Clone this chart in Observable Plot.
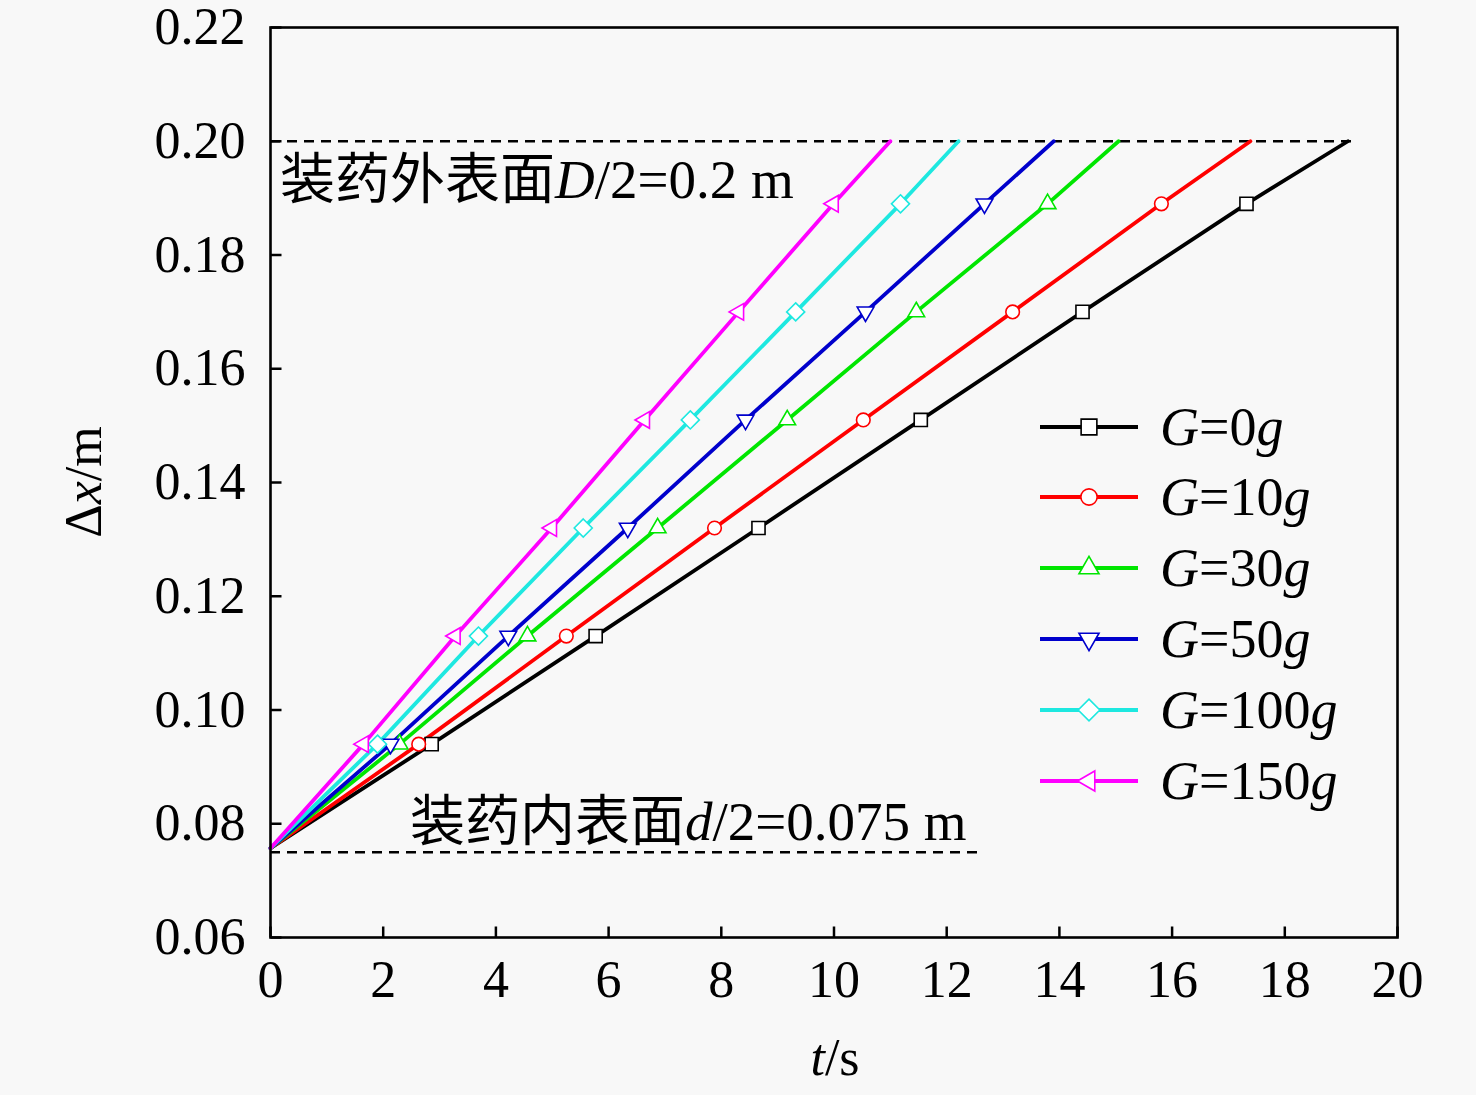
<!DOCTYPE html>
<html><head><meta charset="utf-8">
<script src="https://cdn.jsdelivr.net/npm/d3@7"></script>
<script src="https://cdn.jsdelivr.net/npm/@observablehq/plot@0.6"></script>
<style>
body{margin:0;background:#f8f8f8;}
#chart svg{display:block;overflow:visible;}
</style>
</head><body><div id="chart"></div>
<script>
// ---- data ----
const dxLevels = [0.0757, 0.094, 0.113, 0.132, 0.151, 0.170, 0.189, 0.200];
const seriesLabels = ["0", "10", "30", "50", "100", "150"];
const seriesColors = ["#000000", "#ff0000", "#00e600", "#0000cc", "#1ee8e0", "#ff00ff"];
const tG0   = [0, 2.86, 5.77, 8.66, 11.54, 14.41, 17.32, 19.12];
const tG10  = [0, 2.63, 5.25, 7.88, 10.52, 13.17, 15.81, 17.39];
const tG30  = [0, 2.29, 4.56, 6.87, 9.17, 11.46, 13.79, 15.05];
const tG50  = [0, 2.13, 4.22, 6.34, 8.43, 10.56, 12.67, 13.90];
const tG100 = [0, 1.90, 3.69, 5.55, 7.45, 9.32, 11.18, 12.21];
const tG150 = [0, 1.65, 3.28, 4.99, 6.64, 8.31, 9.99, 11.00];
const seriesT = [tG0, tG10, tG30, tG50, tG100, tG150];
const xTicks = [0, 2, 4, 6, 8, 10, 12, 14, 16, 18, 20];
const yTicks = [0.06, 0.08, 0.10, 0.12, 0.14, 0.16, 0.18, 0.20, 0.22];
const boundaryLevels = [0.2, 0.075];
const boundaryEnds = [19.3, 12.55];

// ---- symbols ----
function triangle(angle) {
  return {draw(ctx, size) {
    const s = Math.sqrt(size / (Math.sqrt(3) / 4));
    const R = s / Math.sqrt(3);
    for (let k = 0; k < 3; k++) {
      const a = angle + k * 2 * Math.PI / 3;
      const px = R * Math.sin(a), py = -R * Math.cos(a);
      if (k === 0) ctx.moveTo(px, py); else ctx.lineTo(px, py);
    }
    ctx.closePath();
  }};
}
const diamond = {draw(ctx, size) {
  const h = Math.sqrt(size) / Math.SQRT2;
  ctx.moveTo(0, -h); ctx.lineTo(h, 0); ctx.lineTo(0, h); ctx.lineTo(-h, 0); ctx.closePath();
}};
const symbols = [d3.symbolSquare, d3.symbolCircle, triangle(0), triangle(Math.PI), diamond, triangle(-Math.PI / 2)];
const symbolR = [7.4, 6.8, 6.2, 6.2, 7.2, 6.2];
const tickUp = {draw(ctx) { ctx.moveTo(0, 0); ctx.lineTo(0, -11); }};
const tickRight = {draw(ctx) { ctx.moveTo(0, 0); ctx.lineTo(11, 0); }};

// ---- table ----
const rows = [];
seriesT.forEach((ts, i) => ts.forEach((t, j) => rows.push({s: i, t, dx: dxLevels[j], inner: j > 0 && j < ts.length - 1})));
const boundaries = boundaryLevels.map((y, i) => ({y, end: boundaryEnds[i]}));

const W = 1476, H = 1095;
const marks = [];
marks.push(Plot.ruleY(boundaries, {y: "y", x1: () => 0, x2: "end", stroke: "black", strokeWidth: 2.6, strokeDasharray: "10,7"}));
seriesT.forEach((_, i) => {
  marks.push(Plot.line(rows.filter(r => r.s === i), {x: "t", y: "dx", stroke: seriesColors[i], strokeWidth: 3.8}));
});
seriesT.forEach((_, i) => {
  marks.push(Plot.dot(rows.filter(r => r.s === i && r.inner), {x: "t", y: "dx", symbol: symbols[i], r: symbolR[i], stroke: seriesColors[i], fill: "white", strokeWidth: 1.6}));
});
marks.push(Plot.dot(xTicks, {x: d => d, y: () => 0.06, symbol: tickUp, stroke: "black", fill: "none", strokeWidth: 2.5}));
marks.push(Plot.dot(yTicks, {x: () => 0, y: d => d, symbol: tickRight, stroke: "black", fill: "none", strokeWidth: 2.5}));
marks.push(Plot.frame({stroke: "black", strokeWidth: 2.6}));
marks.push(Plot.axisX(xTicks, {tickSize: 0, tickPadding: 23, label: null, tickFormat: d => String(d), fill: "black"}));
marks.push(Plot.axisY(yTicks, {tickSize: 0, tickPadding: 25, label: null, tickFormat: d => d.toFixed(2), fill: "black"}));

const chart = Plot.plot({
  width: W, height: H,
  marginLeft: 270, marginRight: 79, marginTop: 27, marginBottom: 158,
  x: {domain: [0, 20]},
  y: {domain: [0.06, 0.22]},
  style: {fontFamily: "'Liberation Serif', 'Noto Sans CJK SC', serif", fontSize: "52px", background: "#f8f8f8", color: "black", overflow: "visible"},
  marks
});
document.getElementById("chart").appendChild(chart);

// ---- texts & legend ----
const svg = d3.select(chart);
function richText(x, y, parts, size, anchor = "start", transform = null) {
  const t = svg.append("text").attr("x", x).attr("y", y).attr("font-size", size)
    .attr("font-family", "'Liberation Serif', 'Noto Sans CJK SC', serif").attr("fill", "black").attr("text-anchor", anchor);
  if (transform) t.attr("transform", transform).attr("x", 0).attr("y", 0);
  parts.forEach(([s, it]) => {
    const sp = t.append("tspan").text(s);
    if (it) sp.attr("font-style", "italic");
  });
  return t;
}
richText(280, 198, [["装药外表面", false], ["D", true], ["/2=0.2 m", false]], 55);
richText(410, 840, [["装药内表面", false], ["d", true], ["/2=0.075 m", false]], 55);
richText(835, 1075, [["t", true], ["/s", false]], 52, "middle");
richText(0, 0, [["Δ", false], ["x", true], ["/m", false]], 52, "middle", "translate(101,482) rotate(-90)");

const legY = [427, 497, 568, 639, 710, 781];
seriesLabels.forEach((lab, i) => {
  const y = legY[i];
  svg.append("line").attr("x1", 1040).attr("x2", 1138).attr("y1", y).attr("y2", y)
    .attr("stroke", seriesColors[i]).attr("stroke-width", 4.2);
  const rl = symbolR[i] * 1.2;
  svg.append("path").attr("d", d3.symbol(symbols[i], Math.PI * rl * rl)())
    .attr("transform", `translate(1089,${y})`).attr("fill", "white").attr("stroke", seriesColors[i]).attr("stroke-width", 1.6);
  richText(1160, y + 18, [["G", true], ["=" + lab, false], ["g", true]], 54);
});
</script>
</body></html>
